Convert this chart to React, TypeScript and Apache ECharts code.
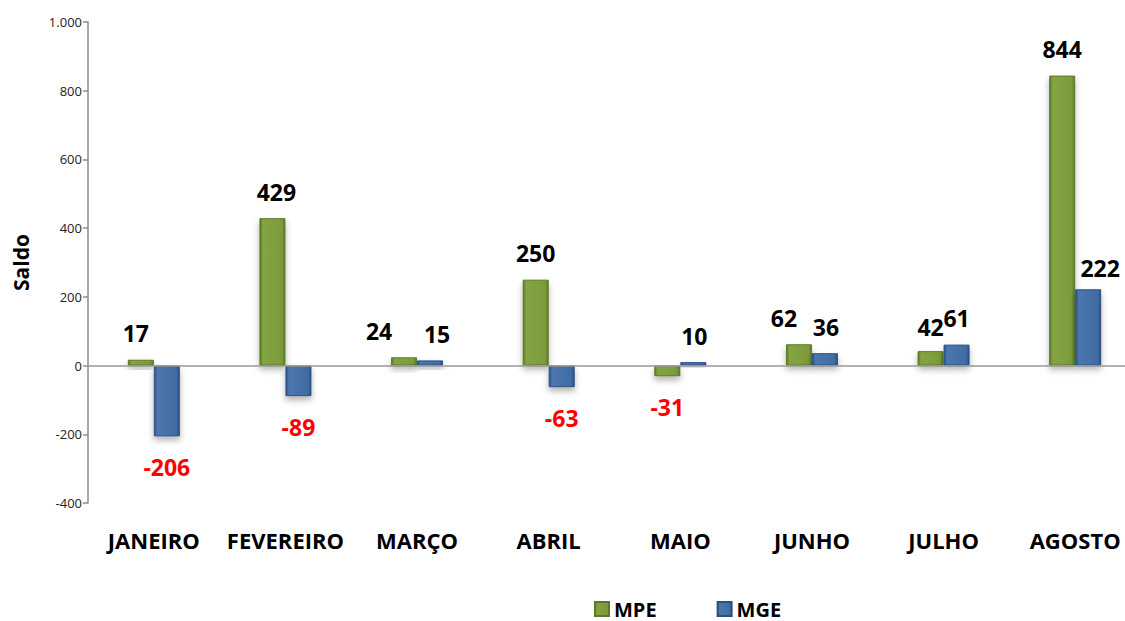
import React, { useEffect, useRef } from "react";
import * as echarts from "echarts";

const categories = ["JANEIRO", "FEVEREIRO", "MARÇO", "ABRIL", "MAIO", "JUNHO", "JULHO", "AGOSTO"];
const mpeValues = [17, 429, 24, 250, -31, 62, 42, 844];
const mgeValues = [-206, -89, 15, -63, 10, 36, 61, 222];
const mpeLabelOffsets = [[-5, 0], [4, 0], [-25, 0], [0, 0], [0, 0], [-15, 0], [0, 2], [0, 0]];
const mgeLabelOffsets = [[0, 0], [0, 0], [7, 0], [0, 0], [1, 0], [1, 0], [0, 0], [12, 5]];

const FONT = "'Open Sans', 'DejaVu Sans', sans-serif";

function barGradient(edge: string, mid: string, mid2: string) {
  return new echarts.graphic.LinearGradient(0, 0, 1, 0, [
    { offset: 0, color: edge },
    { offset: 0.12, color: mid },
    { offset: 0.88, color: mid2 },
    { offset: 1, color: edge },
  ]);
}

function buildData(values: number[], offsets: number[][]) {
  return values.map((v, i) => ({
    value: v,
    label: {
      position: v >= 0 ? "top" : "bottom",
      distance: v >= 0 ? 15 : 19,
      offset: offsets[i],
      color: v >= 0 ? "#000000" : "#ff0000",
    },
  }));
}

export default function App() {
  const ref = useRef<HTMLDivElement>(null);
  useEffect(() => {
    if (!ref.current) return;
    const chart = echarts.init(ref.current, null, { renderer: "svg" });
    const labelBase = {
      show: true,
      fontFamily: FONT,
      fontWeight: "bold",
      fontSize: 23,
      lineHeight: 23,
    };
    chart.setOption({
      animation: false,
      backgroundColor: "#ffffff",
      grid: { left: 88, top: 22, height: 481, width: 1053, outerBoundsMode: "none", containLabel: false },
      legend: {
        left: 594,
        top: 599,
        padding: 0,
        icon: "rect",
        itemWidth: 14,
        itemHeight: 14,
        itemGap: 60,
        textStyle: { fontFamily: FONT, fontWeight: "bold", fontSize: 20, lineHeight: 20, color: "#000" },
        data: ["MPE", "MGE"],
      },
      xAxis: {
        type: "category",
        data: categories,
        axisLine: { show: false },
        axisTick: { show: false },
        axisLabel: {
          interval: 0,
          margin: 26,
          fontFamily: FONT,
          fontWeight: "bold",
          fontSize: 22,
          color: "#000",
        },
      },
      yAxis: {
        type: "value",
        min: -400,
        max: 1000,
        interval: 200,
        name: "Saldo",
        nameLocation: "middle",
        nameGap: 57,
        nameTextStyle: { fontFamily: FONT, fontWeight: "bold", fontSize: 21, color: "#000" },
        axisLine: { show: true, lineStyle: { color: "#8c8c8c", width: 1.5 } },
        axisTick: { show: true, length: 5, lineStyle: { color: "#8c8c8c", width: 1.5 } },
        splitLine: { show: false },
        axisLabel: {
          margin: 6,
          fontFamily: FONT,
          fontSize: 13,
          color: "#222",
          formatter: (v: number) => v.toLocaleString("de-DE"),
        },
      },
      series: [
        {
          name: "MPE",
          type: "bar",
          barWidth: 26,
          barGap: "0%",
          data: buildData(mpeValues, mpeLabelOffsets),
          itemStyle: {
            color: barGradient("#5b7828", "#84a443", "#7c9b3b"),
            borderColor: "#5b7828",
            borderWidth: 1,
            shadowColor: "rgba(0,0,0,0.3)",
            shadowBlur: 6,
            shadowOffsetY: 4,
          },
          label: labelBase,
          markLine: {
            silent: true,
            symbol: "none",
            label: { show: false },
            lineStyle: { color: "#999999", width: 1.5, type: "solid" },
            data: [{ yAxis: 0 }],
          },
        },
        {
          name: "MGE",
          type: "bar",
          barWidth: 26,
          data: buildData(mgeValues, mgeLabelOffsets),
          itemStyle: {
            color: barGradient("#2c5083", "#4a77ae", "#416ca3"),
            borderColor: "#2c5083",
            borderWidth: 1,
            shadowColor: "rgba(0,0,0,0.3)",
            shadowBlur: 6,
            shadowOffsetY: 4,
          },
          label: labelBase,
        },
      ],
    });
    return () => chart.dispose();
  }, []);
  return (
    <div
      ref={ref}
      style={{ position: "absolute", left: 0, top: 0, width: 1125, height: 621 }}
    />
  );
}
